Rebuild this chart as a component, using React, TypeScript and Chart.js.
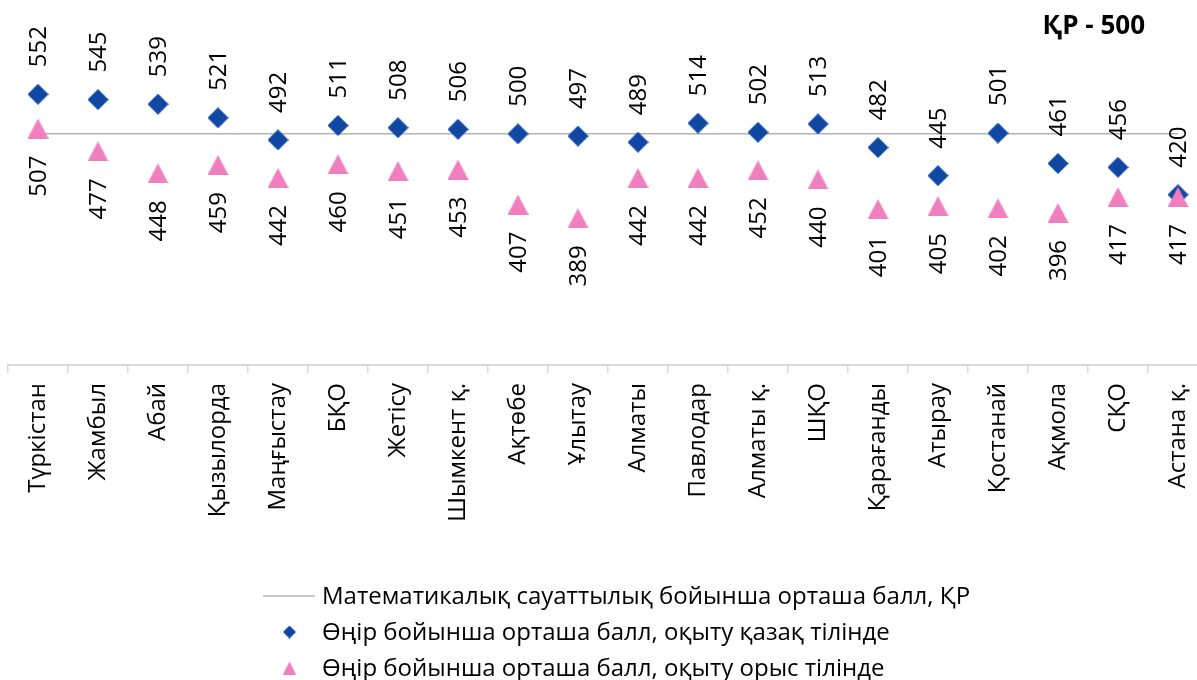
import React, { useEffect, useRef } from "react";
import { Chart, registerables } from "chart.js";

Chart.register(...registerables);

const categories = [
  "Түркістан", "Жамбыл", "Абай", "Қызылорда", "Маңғыстау", "БҚО", "Жетісу",
  "Шымкент қ.", "Ақтөбе", "Ұлытау", "Алматы", "Павлодар", "Алматы қ.", "ШҚО",
  "Қарағанды", "Атырау", "Қостанай", "Ақмола", "СҚО", "Астана қ.",
];
const kazakhScores = [552, 545, 539, 521, 492, 511, 508, 506, 500, 497, 489, 514, 502, 513, 482, 445, 501, 461, 456, 420];
const russianScores = [507, 477, 448, 459, 442, 460, 451, 453, 407, 389, 442, 442, 452, 440, 401, 405, 402, 396, 417, 417];
const nationalAverage = [500, 500, 500, 500, 500, 500, 500, 500, 500, 500, 500, 500, 500, 500, 500, 500, 500, 500, 500, 500];
const seriesNames = [
  "Математикалық сауаттылық бойынша орташа балл, ҚР",
  "Өңір бойынша орташа балл, оқыту қазақ тілінде",
  "Өңір бойынша орташа балл, оқыту орыс тілінде",
];
const titleText = "ҚР - 500";

const BLUE = "#0f47a3";
const PINK = "#f07fc0";
const LINE_GRAY = "#b4b4b4";
const AXIS_GRAY = "#d9d9d9";
const FONT = "'Open Sans', 'Noto Sans', sans-serif";

function makeTriangle(w: number, h: number, color: string) {
  const c = document.createElement("canvas");
  c.width = w;
  c.height = h;
  const ctx = c.getContext("2d")!;
  ctx.fillStyle = color;
  ctx.beginPath();
  ctx.moveTo(w / 2, 0);
  ctx.lineTo(w, h);
  ctx.lineTo(0, h);
  ctx.closePath();
  ctx.fill();
  return c;
}

function makeDiamond(w: number, h: number, color: string) {
  const c = document.createElement("canvas");
  c.width = w;
  c.height = h;
  const ctx = c.getContext("2d")!;
  ctx.fillStyle = color;
  ctx.beginPath();
  ctx.moveTo(w / 2, 0);
  ctx.lineTo(w, h / 2);
  ctx.lineTo(w / 2, h);
  ctx.lineTo(0, h / 2);
  ctx.closePath();
  ctx.fill();
  return c;
}

export default function App() {
  const ref = useRef<HTMLCanvasElement | null>(null);

  useEffect(() => {
    if (!ref.current) return;
    const diamond = makeDiamond(21, 21, BLUE);
    const triangle = makeTriangle(21, 20, PINK);

    const labelPlugin = {
      id: "labelsAndLegend",
      afterDatasetsDraw(chart: any) {
        const ctx = chart.ctx as CanvasRenderingContext2D;
        ctx.save();
        ctx.fillStyle = "#000";
        ctx.font = `24px ${FONT}`;
        ctx.textBaseline = "middle";
        const drawSet = (dsIndex: number, values: number[], above: boolean) => {
          const meta = chart.getDatasetMeta(dsIndex);
          meta.data.forEach((pt: any, i: number) => {
            ctx.save();
            ctx.translate(pt.x + 1, above ? pt.y - 27 : pt.y + 27);
            ctx.rotate(-Math.PI / 2);
            ctx.textAlign = above ? "left" : "right";
            ctx.fillText(String(values[i]), 0, 0);
            ctx.restore();
          });
        };
        drawSet(1, kazakhScores, true);
        drawSet(2, russianScores, false);

        // title
        ctx.font = `bold 26px ${FONT}`;
        ctx.textAlign = "right";
        ctx.textBaseline = "middle";
        ctx.fillText(titleText, 1145, 27);

        // legend
        const lx = 263;
        const tx = 322;
        const rows = [596, 632, 668];
        ctx.font = `24px ${FONT}`;
        ctx.textAlign = "left";
        ctx.textBaseline = "middle";
        ctx.strokeStyle = LINE_GRAY;
        ctx.lineWidth = 1.5;
        ctx.beginPath();
        ctx.moveTo(lx, rows[0]);
        ctx.lineTo(315, rows[0]);
        ctx.stroke();
        ctx.drawImage(makeDiamond(13, 13, BLUE), 283, rows[1] - 6.5);
        ctx.drawImage(makeTriangle(13, 13, PINK), 283, rows[2] - 6.5);
        rows.forEach((ry, i) => {
          ctx.fillText(seriesNames[i], tx, ry + 1);
        });
        ctx.restore();
      },
    };

    const chart = new Chart(ref.current, {
      type: "line",
      data: {
        labels: categories,
        datasets: [
          {
            label: seriesNames[0],
            data: nationalAverage,
            borderColor: LINE_GRAY,
            borderWidth: 1.5,
            pointRadius: 0,
            order: 3,
          },
          {
            label: seriesNames[1],
            data: kazakhScores,
            showLine: false,
            pointStyle: diamond as any,
            pointRadius: 10,
            backgroundColor: BLUE,
            borderColor: BLUE,
            order: 2,
          },
          {
            label: seriesNames[2],
            data: russianScores,
            showLine: false,
            pointStyle: triangle as any,
            pointRadius: 10,
            backgroundColor: PINK,
            borderColor: PINK,
            order: 1,
          },
        ],
      },
      options: {
        responsive: false,
        animation: false,
        devicePixelRatio: 1,
        layout: { autoPadding: false, padding: { left: 8, right: 12, top: 0, bottom: 0 } },
        plugins: {
          legend: { display: false },
          tooltip: { enabled: false },
          title: { display: false },
        },
        scales: {
          x: {
            offset: true,
            grid: {
              display: true,
              offset: true,
              drawOnChartArea: false,
              drawTicks: true,
              tickLength: 8,
              color: AXIS_GRAY,
              lineWidth: 1.5,
            },
            border: { display: true, color: AXIS_GRAY, width: 2 },
            ticks: {
              autoSkip: false,
              maxRotation: 90,
              minRotation: 90,
              padding: 10,
              color: "#000",
              font: { family: FONT, size: 24 },
            },
            afterFit(scale: any) {
              scale.height = 315;
            },
          },
          y: {
            display: false,
            min: 196,
            max: 676,
          },
        },
      },
      plugins: [labelPlugin],
    });
    return () => chart.destroy();
  }, []);

  return (
    <div style={{ position: "fixed", left: 0, top: 0, width: 1197, height: 680, overflow: "hidden", background: "#fff" }}>
      <canvas ref={ref} width={1220} height={680} style={{ display: "block" }} />
    </div>
  );
}
